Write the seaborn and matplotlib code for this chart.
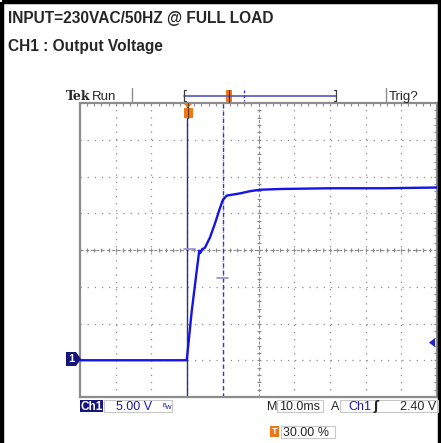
import numpy as np
import pandas as pd
import matplotlib.pyplot as plt
import seaborn as sns
from matplotlib.patches import Polygon, Rectangle

# Scope capture: CH1 output voltage at turn-on (5 V/div, 10 ms/div, trigger 30 %)
time_ms = [-30, -10, -0.1, 1.3, 2.7, 3.4, 3.7, 4.2, 5.0, 6.4, 7.8, 9.2, 10.0, 11.1,
           14.8, 17.6, 20.4, 26.1, 40, 55, 70]
volts = [0, 0, 0, 6.7, 12.2, 14.9, 14.6, 15.1, 15.3, 16.7, 18.6, 20.7, 21.8, 22.4,
         22.7, 23.0, 23.2, 23.3, 23.4, 23.4, 23.5]
trace = pd.DataFrame({'t': time_ms, 'v': volts})

title_lines = ['INPUT=230VAC/50HZ @ FULL LOAD', 'CH1 : Output Voltage']
ch1_scale = '5.00 V'
time_scale = '10.0ms'
trig_level = 2.40
trig_text = '2.40 V'
trig_pos = '30.00 %'
cursor_t = 10.0

sns.set_style('white')
plt.rcParams['font.family'] = ['Liberation Sans', 'DejaVu Sans']
plt.rcParams['lines.scale_dashes'] = False

W, H = 441, 443
fig = plt.figure(figsize=(W / 100, H / 100), dpi=100)

# graticule
x0, x1, y0, y1 = 80, 437, 103, 397
ax = fig.add_axes([x0 / W, 1 - y1 / H, (x1 - x0) / W, (y1 - y0) / H])
ax.set_xlim(-30, 70)
ax.set_ylim(-5, 35)
grey = '#8c8c8c'
dots = (0, (0.9, 4.25))
for t in np.arange(-20, 70, 10):
    ax.axvline(t, color=grey, lw=0.9, ls=dots, zorder=1)
for v in np.arange(0, 35, 5):
    ax.axhline(v, color=grey, lw=0.9, ls=dots, zorder=1)
ax.axhline(15, color=grey, lw=0.8, ls=(0, (2.2, 1.6)), zorder=1)
ax.axvline(20, color=grey, lw=0.8, ls=(0, (2.2, 1.6)), zorder=1)
mt = np.arange(-30, 70.1, 2)
mv = np.arange(-5, 35.1, 1)
ax.plot(mt, np.full_like(mt, 15.0), ls='none', marker='|', ms=3.5, mew=0.8, color=grey, zorder=1)
ax.plot(np.full_like(mv, 20.0), mv, ls='none', marker='_', ms=3.5, mew=0.8, color=grey, zorder=1)

ax.set_xticks(np.arange(-30, 71, 10))
ax.set_xticks(mt, minor=True)
ax.set_yticks(np.arange(-5, 36, 5))
ax.set_yticks(mv, minor=True)
ax.tick_params(which='both', direction='in', length=2.5, width=0.8, color=grey,
               top=True, right=True, labelbottom=False, labelleft=False)
for s in ax.spines.values():
    s.set_color(grey)
    s.set_linewidth(1.6)

# trigger point and cursor
ax.axvline(0, color='#2c2c8c', lw=1.0, zorder=2)
ax.axvline(cursor_t, color='#3434d8', lw=1.0, ls=(0, (3, 2.2)), zorder=2)
ax.plot([-0.9, 2.2], [15.2, 15.2], color='#9090d8', lw=1.2, zorder=2)
ax.plot([8.4, 11.5], [11.2, 11.2], color='#9090d8', lw=1.2, zorder=2)

sns.lineplot(data=trace, x='t', y='v', ax=ax, color='#1414e8', lw=1.7, zorder=3)
ax.set_xlabel('')
ax.set_ylabel('')

# overlay in pixel coordinates for the scope decorations (drawn above the graticule)
ov = fig.add_axes([0, 0, 1, 1])
ov.set_xlim(0, W)
ov.set_ylim(H, 0)
ov.axis('off')
ov.set_zorder(5)

navy = '#14147a'
blue = '#1c1ca8'
orange = '#f07814'

# frame
ov.add_patch(Rectangle((1.5, 1.5), W - 3, H + 5, fill=False, ec='black', lw=3.2))

# titles
ov.text(8, 23, title_lines[0], fontsize=11.2, fontweight='bold', va='baseline')
ov.text(8, 51, title_lines[1], fontsize=11.2, fontweight='bold', va='baseline')

# header
ov.text(66, 100, 'Tek', fontsize=9, fontweight='bold', family='DejaVu Serif', va='baseline')
ov.text(92, 100, 'Run', fontsize=9.5, va='baseline')
ov.plot([132, 132], [88, 101], color=grey, lw=1)
ov.plot([386, 386], [88, 101], color=grey, lw=1)
ov.text(389, 100, 'Trig?', fontsize=9.5, va='baseline')
ov.plot([184, 336], [96, 96], color='#5454c4', lw=1.2)
for bx, d in [(184, 2), (336, -2)]:
    ov.plot([bx + d, bx, bx, bx + d], [90, 90, 101, 101], color='#404040', lw=0.9)
ov.plot([244, 244], [90, 101], color='#3434d8', lw=1.0, ls=(0, (2, 1.5)))
ov.add_patch(Rectangle((226, 90), 6, 12, fc=orange, ec='none'))
ov.plot([229, 229], [90, 102], color='#4a2a20', lw=0.8)

# trigger position marker on top of graticule
ov.add_patch(Polygon([(183, 103), (193, 103), (188, 108)], closed=True, fc=orange, ec='none'))
ov.add_patch(Rectangle((183.5, 108), 9, 10, fc=orange, ec='none'))
ov.plot([188, 188], [103, 118], color='#6a3a20', lw=0.8)

# ground marker and trigger level arrow
ov.add_patch(Polygon([(66, 352), (76, 352), (81, 359), (76, 366), (66, 366)], closed=True,
                     fc=navy, ec='none'))
ov.text(71, 359.5, '1', color='white', fontsize=8, fontweight='bold', ha='center', va='center')
ty = y1 - (trig_level + 5) / 40 * (y1 - y0)
ov.add_patch(Polygon([(429, ty), (435, ty - 4.5), (435, ty + 4.5)], closed=True, fc='#2020d0', ec='none'))

# bottom readouts
ov.add_patch(Rectangle((80, 400), 23, 12, fc=navy, ec='none'))
ov.text(91.5, 410, 'Ch1', color='white', fontsize=8.5, fontweight='bold', ha='center', va='baseline')
ov.add_patch(Rectangle((104, 400), 68, 12, fc='none', ec='#c8c8c8', lw=0.8))
ov.text(116, 410, ch1_scale, color=blue, fontsize=9, va='baseline')
ov.text(163, 409, 'ᴮw', color=blue, fontsize=6, va='baseline')
ov.text(267, 410, 'M', fontsize=9, va='baseline')
ov.add_patch(Rectangle((277, 400), 46, 12, fc='none', ec='#c8c8c8', lw=0.8))
ov.text(279, 410, time_scale, fontsize=9, va='baseline')
ov.text(331, 410, 'A', fontsize=9, va='baseline')
ov.add_patch(Rectangle((340, 400), 98, 12, fc='none', ec='#c8c8c8', lw=0.8))
ov.text(348, 410, 'Ch1', color=blue, fontsize=9, va='baseline')
ov.text(373, 410, 'ʃ', fontsize=9, fontweight='bold', va='baseline', family='DejaVu Sans')
ov.text(436, 410, trig_text, fontsize=9, ha='right', va='baseline')
ov.add_patch(Rectangle((270, 426), 9, 11, fc=orange, ec='none'))
ov.text(274.5, 431.5, 'T', color='white', fontsize=6.5, fontweight='bold', ha='center', va='center')
ov.add_patch(Rectangle((281, 426), 54, 12, fc='none', ec='#c8c8c8', lw=0.8))
ov.text(283, 436, trig_pos, fontsize=9, va='baseline')

fig.savefig('out.png', dpi=100)
